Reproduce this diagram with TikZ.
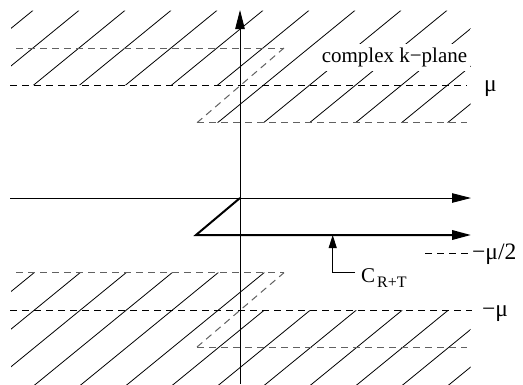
\documentclass[tikz,border=0pt]{standalone}
\usepackage{fontspec}
\setmainfont{Liberation Serif}
\usetikzlibrary{arrows.meta}
\tikzset{
  hatch/.style={line width=0.8pt},
  blackdash/.style={line width=0.9pt, dash pattern=on 7pt off 5pt},
  graydash/.style={line width=1pt, draw=black!62, dash pattern=on 7pt off 5pt},
  axis/.style={line width=0.9pt, -{Triangle[length=19pt,width=9.5pt]}},
  contour/.style={line width=2pt, -{Triangle[length=19pt,width=9.5pt]}},
  pointer/.style={line width=0.9pt, -{Triangle[length=13pt,width=8pt]}},
  lbl/.style={font=\fontsize{21}{25}\selectfont, inner sep=0pt},
  mulbl/.style={font=\fontsize{23.5}{27}\selectfont, inner sep=0pt},
}
\begin{document}
\begin{tikzpicture}[x=1pt,y=-1pt]
\useasboundingbox (0,0) rectangle (523,384);
% hatching
\begin{scope}
\clip (11,10.7) -- (470.7,10.7) -- (470.7,122.7) -- (197,122.7) -- (240.9,85) -- (11,85) -- cycle
      (11,272.7) -- (284,272.7) -- (240.2,310.3) -- (470.7,310.3) -- (470.7,390) -- (11,390) -- cycle;
\foreach \k in {-7,...,14} \draw[hatch] ({321.7+46*\k},0) -- ({321.7+46*\k-489.36},400);
\end{scope}
% coordinates
\coordinate (g1a) at (16,48);
\coordinate (g1b) at (284,48);
\coordinate (mua) at (10,85);
\coordinate (mub) at (467,85);
\coordinate (g2a) at (197,122.7);
\coordinate (g2b) at (467,122.7);
\coordinate (g3a) at (16,272.7);
\coordinate (g3b) at (284,272.7);
\coordinate (mma) at (10,310.3);
\coordinate (mmb) at (472,310.3);
\coordinate (g4a) at (197,347);
\coordinate (g4b) at (467,347);
\coordinate (ha) at (425,253.7);
\coordinate (hb) at (468,253.7);
% dashed lines
\draw[graydash] (g1a) -- (g1b);
\draw[graydash] (g2a) -- (g2b);
\draw[graydash] (g2a) -- (g1b);
\draw[blackdash] (mua) -- (mub);
\draw[graydash] (g3a) -- (g3b);
\draw[graydash] (g4a) -- (g4b);
\draw[graydash] (g4a) -- (g3b);
\draw[blackdash] (mma) -- (mmb);
\draw[blackdash] (ha) -- (hb);
% axes
\coordinate (O) at (240,198);
\coordinate (yb) at (240,384);
\coordinate (yt) at (240,10);
\coordinate (xl) at (10,198);
\coordinate (xr) at (471,198);
\draw[axis] (yb) -- (yt);
\draw[axis] (xl) -- (xr);
% contour
\coordinate (P) at (196,235);
\coordinate (Q) at (471,235);
\draw[contour] (O) -- (P) -- (Q);
% labels
\node[mulbl, anchor=base west] (mu) at (484,91) {μ};
\node[mulbl, anchor=base west] (mhalf) at (472,259) {−μ/2};
\node[mulbl, anchor=base west] (mmu) at (482,316) {−μ};
\node[lbl, anchor=base, fill=white, inner xsep=3pt, inner ysep=4pt] (plane) at (394.5,62.7) {complex k−plane};
\node[lbl, anchor=base west] (crt) at (361,282) {C\kern2pt\raisebox{-5pt}{\fontsize{16}{18}\selectfont R+T}};
\coordinate (cl) at (355,272.7);
\coordinate (cc) at (332.7,272.7);
\coordinate (ct) at (332.7,235);
\draw[pointer] (cl) -- (cc) -- (ct);
\end{tikzpicture}
\end{document}
